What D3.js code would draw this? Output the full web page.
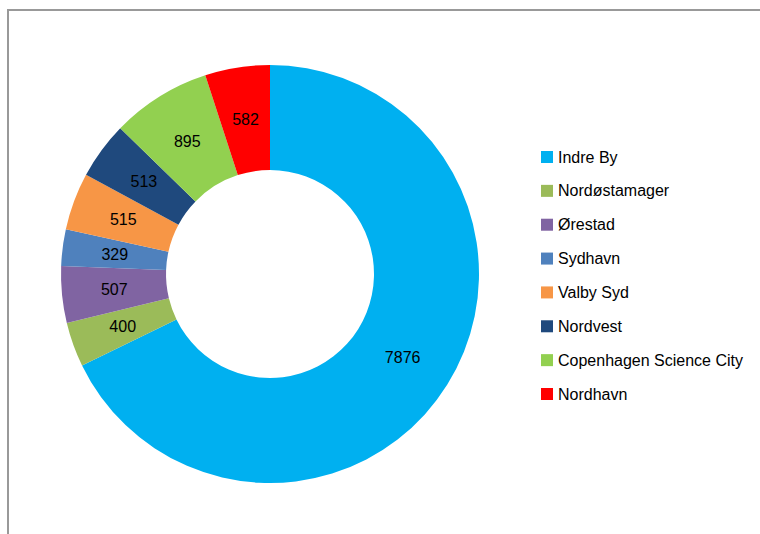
<!DOCTYPE html>
<html>
<head>
<meta charset="utf-8">
<script src="https://cdn.jsdelivr.net/npm/d3@7"></script>
<style>
  body { margin: 0; background: #fff; }
  svg { display: block; }
  text { font-family: "Liberation Sans", "DejaVu Sans", sans-serif; }
</style>
</head>
<body>
<svg id="canvas" width="760" height="534"></svg>
<script>
let names = ["Indre By", "Nordøstamager", "Ørestad", "Sydhavn", "Valby Syd", "Nordvest", "Copenhagen Science City", "Nordhavn"]
let values = [7876, 400, 507, 329, 515, 513, 895, 582]
let colors = ["#00b0f0", "#9bbb59", "#8064a2", "#4f81bd", "#f79646", "#1f497d", "#92d050", "#ff0000"]

let canvas = d3.select("#canvas")

// frame (only top and left edge visible)
canvas.append("path")
  .attr("d", "M8,534 L8,10 L760,10")
  .attr("fill", "none")
  .attr("stroke", "#999")
  .attr("stroke-width", 2)

let cx = 270, cy = 274
let outer = 209, inner = 104

let pie = d3.pie().sort(null).value(d => d)
let arc = d3.arc().innerRadius(inner).outerRadius(outer)
let labelArc = d3.arc().innerRadius((inner + outer) / 2).outerRadius((inner + outer) / 2)

let g = canvas.append("g").attr("transform", `translate(${cx},${cy})`)

let slices = pie(values)

g.selectAll("path").data(slices)
  .enter()
  .append("path")
  .attr("d", arc)
  .attr("fill", (d, i) => colors[i])

g.selectAll("text").data(slices)
  .enter()
  .append("text")
  .attr("transform", d => `translate(${labelArc.centroid(d)})`)
  .attr("text-anchor", "middle")
  .attr("dy", "0.35em")
  .attr("font-size", 16)
  .attr("fill", "#000")
  .text(d => d.data)

let legend = canvas.append("g").attr("transform", "translate(541,157)")
let y = d3.scalePoint().domain(names).range([0, 237])

let item = legend.selectAll("g").data(names)
  .enter()
  .append("g")
  .attr("transform", d => `translate(0,${y(d)})`)

item.append("rect")
  .attr("x", 0).attr("y", -6)
  .attr("width", 12).attr("height", 12)
  .attr("fill", (d, i) => colors[i])

item.append("text")
  .attr("x", 17)
  .attr("dy", "0.35em")
  .attr("font-size", 16)
  .attr("fill", "#000")
  .text(d => d)
</script>
</body>
</html>
